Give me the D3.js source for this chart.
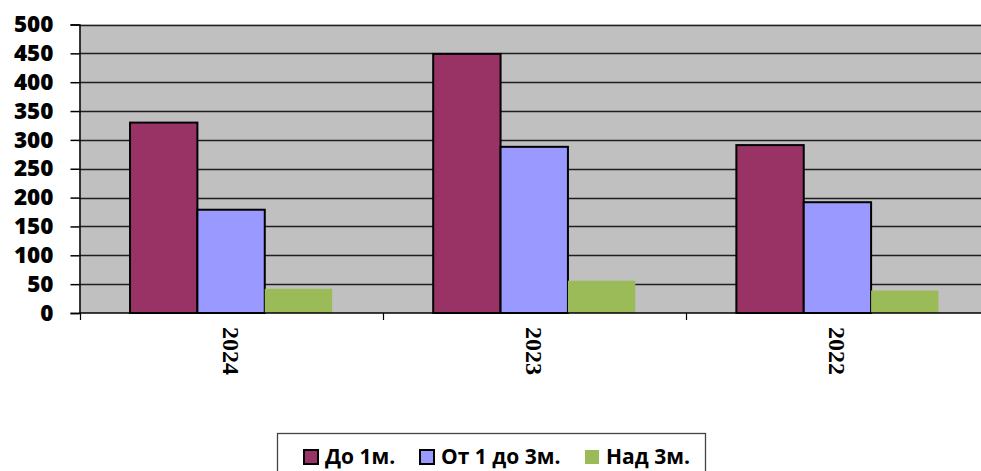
<!DOCTYPE html>
<html>
<head>
<meta charset="utf-8">
<script src="https://cdn.jsdelivr.net/npm/d3@7"></script>
<style>
  body { margin: 0; background: #fff; overflow: hidden; }
  .xlab { font-family: "Liberation Serif", "DejaVu Serif", "Times New Roman", serif; font-weight: bold; font-size: 24px; }
</style>
</head>
<body>
<div id="chart"></div>
<script>
// data
var years = ["2024", "2023", "2022"];
var series = ["До 1м.", "От 1 до 3м.", "Над 3м."];
var upTo1 = [330, 449, 291];
var from1to3 = [179, 288, 192];
var over3 = [42, 56, 39];
var yTicks = [0, 50, 100, 150, 200, 250, 300, 350, 400, 450, 500];
var colors = ["#993366", "#9999FF", "#9BBB59"];

var values = [upTo1, from1to3, over3];
var rows = years.map(function(y, i) {
  return { year: y, vals: series.map(function(s, j) { return { s: s, j: j, v: values[j][i] }; }) };
});

var width = 981, height = 471;
var plotLeft = 79.5, plotRight = 989, plotTop = 24.5, plotBottom = 313;

var svg = d3.select("#chart").append("svg")
  .attr("width", width)
  .attr("height", height);

var x = d3.scaleBand().domain(years).range([plotLeft, plotRight]);
var xs = d3.scaleBand().domain(series).range([0, x.bandwidth()]).paddingOuter(0.75);
var y = d3.scaleLinear().domain([0, 500]).range([plotBottom, plotTop]);

// plot area
svg.append("rect")
  .attr("x", plotLeft).attr("y", plotTop)
  .attr("width", plotRight - plotLeft).attr("height", plotBottom - plotTop)
  .attr("fill", "#C0C0C0");

// gridlines
svg.append("g")
  .selectAll("line")
  .data(yTicks.filter(function(d) { return d > 0; }))
  .enter()
  .append("line")
  .attr("x1", plotLeft).attr("x2", plotRight)
  .attr("y1", function(d) { return Math.round(y(d)) + 0.5; })
  .attr("y2", function(d) { return Math.round(y(d)) + 0.5; })
  .attr("stroke", "#1e1e1e")
  .attr("stroke-width", 1.3);

// bars
var groups = svg.append("g")
  .selectAll("g")
  .data(rows)
  .enter()
  .append("g")
  .attr("transform", function(d) { return "translate(" + x(d.year) + ",0)"; });

groups.selectAll("rect")
  .data(function(d) { return d.vals; })
  .enter()
  .append("rect")
  .attr("x", function(d) { return xs(d.s); })
  .attr("y", function(d) { return y(d.v); })
  .attr("width", xs.bandwidth())
  .attr("height", function(d) { return plotBottom - y(d.v); })
  .attr("fill", function(d) { return colors[d.j]; })
  .attr("stroke", function(d) { return d.j < 2 ? "#000" : "none"; })
  .attr("stroke-width", 2);

// y axis
var yAxis = svg.append("g")
  .attr("transform", "translate(" + plotLeft + ",0)")
  .call(d3.axisLeft(y).tickValues(yTicks).tickSize(9).tickPadding(17));
yAxis.select(".domain").attr("stroke", "#000").attr("stroke-width", 1.5);
yAxis.selectAll(".tick line").attr("stroke", "#000").attr("stroke-width", 1.5);
yAxis.selectAll("text")
  .attr("fill", "#000")
  .style("font-family", "'Open Sans', sans-serif")
  .style("font-weight", "800")
  .style("font-size", "22.5px");

// x axis line and category ticks
svg.append("line")
  .attr("x1", plotLeft).attr("x2", plotRight)
  .attr("y1", plotBottom).attr("y2", plotBottom)
  .attr("stroke", "#000").attr("stroke-width", 1.5);

svg.append("g")
  .selectAll("line")
  .data(years)
  .enter()
  .append("line")
  .attr("x1", function(d) { return Math.round(x(d)) + 0.5; })
  .attr("x2", function(d) { return Math.round(x(d)) + 0.5; })
  .attr("y1", plotBottom).attr("y2", plotBottom + 7)
  .attr("stroke", "#000").attr("stroke-width", 1.2);

// x labels, rotated
svg.append("g")
  .selectAll("text")
  .data(years)
  .enter()
  .append("text")
  .attr("class", "xlab")
  .attr("transform", function(d) {
    return "translate(" + (x(d) + x.bandwidth() / 2) + "," + 327 + ") rotate(90)";
  })
  .attr("dy", "0.35em")
  .attr("text-anchor", "start")
  .text(function(d) { return d; });

// legend
var legend = svg.append("g");
legend.append("rect")
  .attr("x", 277.5).attr("y", 433.5)
  .attr("width", 428).attr("height", 60)
  .attr("fill", "#fff")
  .attr("stroke", "#444")
  .attr("stroke-width", 1.3);

var legendX = [304, 420, 585];
var items = legend.selectAll("g.item")
  .data(series)
  .enter()
  .append("g")
  .attr("class", "item")
  .attr("transform", function(d, i) { return "translate(" + legendX[i] + ",0)"; });

items.append("rect")
  .attr("x", 0).attr("y", 450)
  .attr("width", 14).attr("height", 14)
  .attr("fill", function(d, i) { return colors[i]; })
  .attr("stroke", function(d, i) { return i < 2 ? "#000" : "none"; })
  .attr("stroke-width", 2);

items.append("text")
  .attr("x", 21).attr("y", 464)
  .style("font-family", "'Open Sans', sans-serif")
  .style("font-weight", "700")
  .style("font-size", "21px")
  .text(function(d) { return d; });
</script>
</body>
</html>
